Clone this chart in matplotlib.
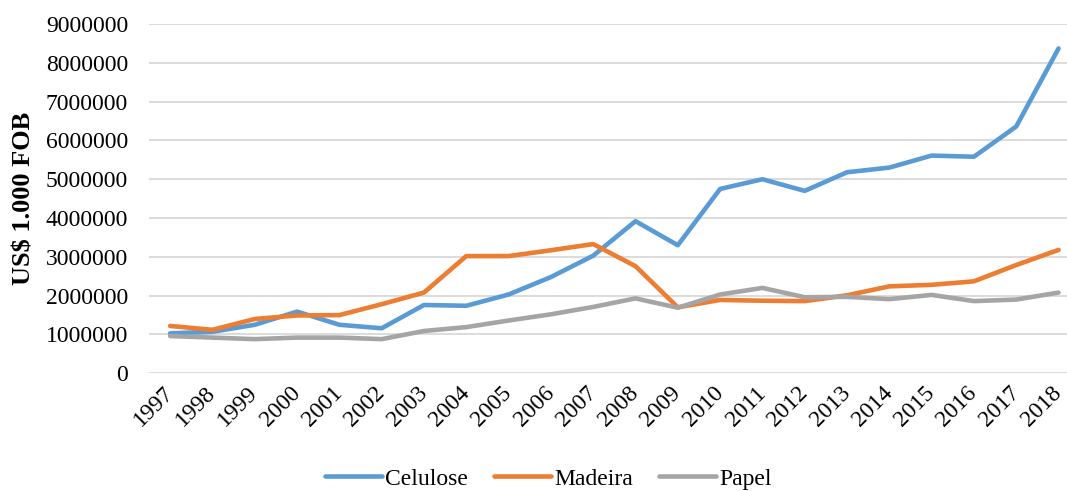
import numpy as np
import matplotlib.pyplot as plt

plt.rcParams['font.family'] = ['Liberation Serif', 'DejaVu Serif']

anos = [str(a) for a in range(1997, 2019)]
celulose = [1030000, 1070000, 1250000, 1590000, 1250000, 1160000, 1760000, 1740000,
            2030000, 2480000, 3030000, 3920000, 3300000, 4750000, 5000000, 4700000,
            5180000, 5300000, 5610000, 5580000, 6360000, 8370000]
madeira = [1220000, 1120000, 1400000, 1490000, 1500000, 1780000, 2080000, 3020000,
           3020000, 3170000, 3330000, 2760000, 1700000, 1890000, 1870000, 1860000,
           2010000, 2240000, 2280000, 2370000, 2790000, 3180000]
papel = [960000, 920000, 880000, 920000, 920000, 880000, 1090000, 1190000,
         1360000, 1520000, 1710000, 1930000, 1690000, 2030000, 2200000, 1960000,
         1970000, 1910000, 2020000, 1860000, 1900000, 2080000]

fig = plt.figure(figsize=(10.67, 4.91), dpi=100)
ax = fig.add_axes([149 / 1067, 1 - 373.3 / 491, 1 - 149 / 1067, (373.3 - 24) / 491])

x = np.arange(len(anos))
ax.plot(x, celulose, color='#5B9BD5', lw=3.3, label='Celulose', solid_capstyle='round')
ax.plot(x, madeira, color='#ED7D31', lw=3.3, label='Madeira', solid_capstyle='round')
ax.plot(x, papel, color='#A5A5A5', lw=3.3, label='Papel', solid_capstyle='round')

ax.set_xlim(-0.5, 21.2)
ax.set_ylim(0, 9000000)
ax.set_yticks(np.arange(0, 9000001, 1000000))
ax.set_yticklabels([str(v) for v in range(0, 9000001, 1000000)], fontsize=17)
ax.set_xticks(x)
ax.set_xticklabels(anos, fontsize=17, rotation=45, ha='right', va='center',
                   rotation_mode='anchor')
ax.tick_params(axis='y', length=0, pad=15)
ax.tick_params(axis='x', length=0, pad=12)
ax.grid(axis='y', color='#D9D9D9', lw=1.3)
ax.set_axisbelow(True)
for s in ax.spines.values():
    s.set_visible(False)

ax.set_ylabel('US$ 1.000 FOB', fontsize=19, fontweight='bold')
ax.yaxis.set_label_coords(-(149 - 36) / (1067 - 149), 0.5)

fig.legend(loc='center', bbox_to_anchor=(0.514, 1 - 479 / 491), ncol=3, frameon=False,
           fontsize=17, handlelength=2.4, handletextpad=0.15, columnspacing=1.1,
           borderpad=0)

fig.savefig('out.png', dpi=100)
